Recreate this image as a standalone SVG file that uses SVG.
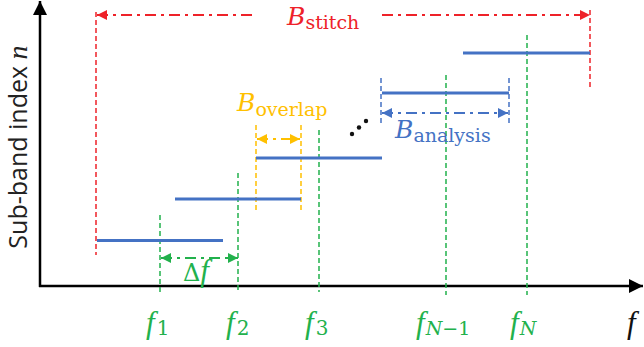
<svg xmlns="http://www.w3.org/2000/svg" width="644" height="347" viewBox="0 0 644 347">
<style>
.axis{stroke:#000;stroke-width:2.5;fill:none}
.bar{stroke:#4472c4;stroke-width:3;fill:none}
.vd{stroke-width:1.5;stroke-dasharray:5 3;fill:none}
.dd{stroke-width:2;stroke-dasharray:11 5 3 5;fill:none}
.red{stroke:#ee2229}
.grn{stroke:#22b14c}
.org{stroke:#ffc000}
.blu{stroke:#4472c4}
.m{font-family:"DejaVu Serif",serif}
.it{font-family:"Liberation Serif",serif;font-style:italic}
.lab{font-family:"Open Sans","DejaVu Sans",sans-serif;font-size:25px;fill:#222}
</style>
<defs>
<marker id="ak" markerUnits="userSpaceOnUse" markerWidth="16" markerHeight="16" refX="14" refY="7" orient="auto"><path d="M0,0 L14,7 L0,14 Z" fill="#000"/></marker>
<marker id="ar" markerUnits="userSpaceOnUse" markerWidth="12" markerHeight="12" refX="10" refY="5" orient="auto-start-reverse"><path d="M0,0 L10,5 L0,10 Z" fill="#ee2229"/></marker>
<marker id="ag" markerUnits="userSpaceOnUse" markerWidth="12" markerHeight="12" refX="10" refY="5" orient="auto-start-reverse"><path d="M0,0 L10,5 L0,10 Z" fill="#22b14c"/></marker>
<marker id="ao" markerUnits="userSpaceOnUse" markerWidth="12" markerHeight="12" refX="10" refY="5" orient="auto-start-reverse"><path d="M0,0 L10,5 L0,10 Z" fill="#ffc000"/></marker>
<marker id="ab" markerUnits="userSpaceOnUse" markerWidth="12" markerHeight="12" refX="10" refY="5" orient="auto-start-reverse"><path d="M0,0 L10,5 L0,10 Z" fill="#4472c4"/></marker>
</defs>

<g id="axes">
<line class="axis" x1="40" y1="287" x2="40" y2="1" marker-end="url(#ak)"/>
<line class="axis" x1="39" y1="286" x2="643" y2="286" marker-end="url(#ak)"/>
<text class="lab" transform="translate(27,147) rotate(-90)" text-anchor="middle">Sub-band index <tspan class="it" font-size="28">n</tspan></text>
<text class="it" x="627" y="333" font-size="31" fill="#111">f</text>
</g>

<g id="connectors">
<line class="vd red" x1="96" y1="12" x2="96" y2="255"/>
<line class="vd red" x1="590" y1="10" x2="590" y2="90"/>
<line class="dd red" x1="252" y1="15" x2="97" y2="15" marker-end="url(#ar)"/>
<line class="dd red" x1="382" y1="15" x2="590" y2="15" marker-end="url(#ar)"/>

<line class="vd org" x1="256" y1="125" x2="256" y2="212"/>
<line class="vd org" x1="301" y1="125" x2="301" y2="212"/>
<line class="dd org" x1="257" y1="139" x2="300" y2="139" marker-start="url(#ao)" marker-end="url(#ao)"/>

<line class="vd blu" x1="381" y1="78" x2="381" y2="123"/>
<line class="vd blu" x1="509" y1="78" x2="509" y2="123"/>
<line class="dd blu" x1="382" y1="113" x2="508" y2="113" marker-start="url(#ab)" marker-end="url(#ab)"/>

<line class="vd grn" x1="160" y1="215" x2="160" y2="295"/>
<line class="vd grn" x1="238" y1="173" x2="238" y2="293"/>
<line class="vd grn" x1="319" y1="130" x2="319" y2="292"/>
<line class="vd grn" x1="446" y1="75" x2="446" y2="295"/>
<line class="vd grn" x1="527" y1="35" x2="527" y2="295"/>
<line class="dd grn" x1="161" y1="258" x2="238" y2="258" marker-start="url(#ag)" marker-end="url(#ag)"/>
</g>

<g id="bands">
<line class="bar" x1="97" y1="240.5" x2="223" y2="240.5"/>
<line class="bar" x1="175" y1="199" x2="301" y2="199"/>
<line class="bar" x1="256" y1="158" x2="382" y2="158"/>
<line class="bar" x1="382" y1="93" x2="509" y2="93"/>
<line class="bar" x1="463" y1="53" x2="590" y2="53"/>
</g>

<g id="ellipsis" fill="#111">
<circle cx="352" cy="134" r="2.2"/>
<circle cx="359" cy="127.5" r="2.2"/>
<circle cx="366" cy="121" r="2.2"/>
</g>

<g id="labels">
<text x="287" y="25" fill="#ee2229"><tspan class="m" font-style="italic" font-size="25">B</tspan><tspan class="m" font-size="19" dy="4">stitch</tspan></text>
<text x="237" y="111" fill="#ffc000"><tspan class="m" font-style="italic" font-size="25">B</tspan><tspan class="m" font-size="19" dy="5">overlap</tspan></text>
<text x="395" y="138" fill="#4472c4"><tspan class="m" font-style="italic" font-size="25">B</tspan><tspan class="m" font-size="19" dy="4">analysis</tspan></text>
<text x="183" y="281" fill="#22b14c"><tspan class="m" font-size="24">Δ</tspan><tspan class="it" font-size="31">f</tspan></text>
<text x="146" y="333" fill="#22b14c"><tspan class="it" font-size="31">f</tspan><tspan class="m" font-size="20" dy="2" dx="2">1</tspan></text>
<text x="226" y="333" fill="#22b14c"><tspan class="it" font-size="31">f</tspan><tspan class="m" font-size="20" dy="2" dx="2">2</tspan></text>
<text x="305" y="333" fill="#22b14c"><tspan class="it" font-size="31">f</tspan><tspan class="m" font-size="20" dy="2" dx="2">3</tspan></text>
<text x="416" y="333" fill="#22b14c"><tspan class="it" font-size="31">f</tspan><tspan class="m" font-style="italic" font-size="19" dy="2" dx="1">N</tspan><tspan class="m" font-size="19">−1</tspan></text>
<text x="510" y="333" fill="#22b14c"><tspan class="it" font-size="31">f</tspan><tspan class="m" font-style="italic" font-size="19" dy="2" dx="1">N</tspan></text>
</g>
</svg>
